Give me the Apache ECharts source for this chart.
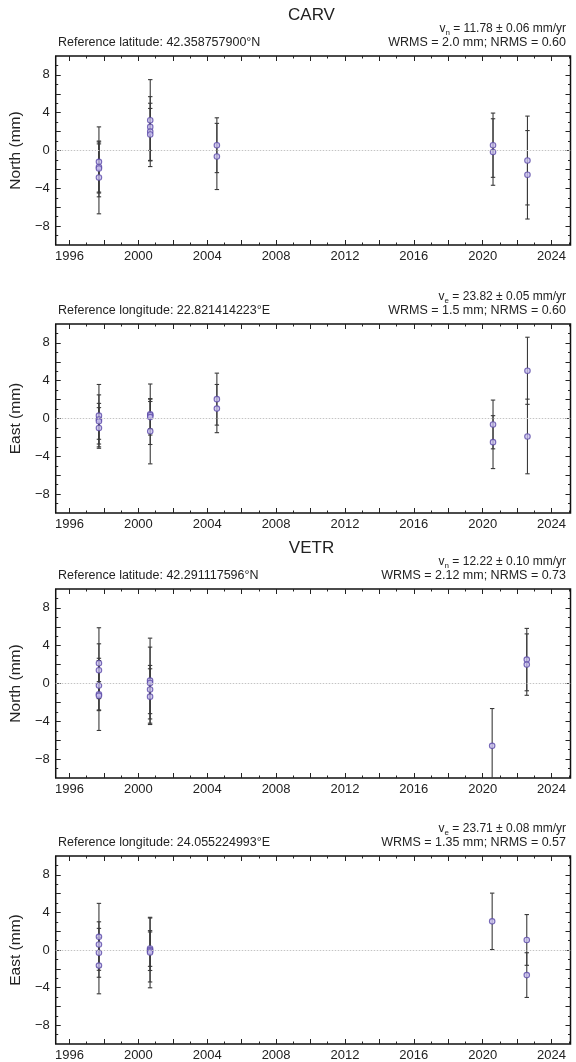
<!DOCTYPE html>
<html><head><meta charset="utf-8">
<script src="https://cdn.jsdelivr.net/npm/echarts@6/dist/echarts.min.js"></script>
<style>html,body{margin:0;padding:0;background:#fff}#c{width:576px;height:1062px}</style>
</head><body><div id="c"></div>
<script>
// ---- axis definitions ----
const xMin = 1995.2, xMax = 2025.1;
const yMin = -10, yMax = 10;
const xLabelVals = [1996, 2000, 2004, 2008, 2012, 2016, 2020, 2024];
const xMajorTicks = [1996, 1998, 2000, 2002, 2004, 2006, 2008, 2010, 2012, 2014, 2016, 2018, 2020, 2022, 2024];
const xMinorTicks = [1996, 1997, 1998, 1999, 2000, 2001, 2002, 2003, 2004, 2005, 2006, 2007, 2008, 2009, 2010, 2011, 2012, 2013, 2014, 2015, 2016, 2017, 2018, 2019, 2020, 2021, 2022, 2023, 2024, 2025];
const yLabelVals = [-8, -4, 0, 4, 8];
const yMajorTicks = [-8, -6, -4, -2, 0, 2, 4, 6, 8];
const yMinorTicks = [-9, -8, -7, -6, -5, -4, -3, -2, -1, 0, 1, 2, 3, 4, 5, 6, 7, 8, 9];

// ---- CARV North ----
const carvNorthT = [1997.71, 1997.71, 1997.71, 1997.71, 2000.69, 2000.69, 2000.69, 2000.69, 2004.56, 2004.56, 2020.6, 2020.6, 2022.6, 2022.6];
const carvNorthV = [-1.2, -1.75, -1.9, -2.85, 3.2, 2.5, 2.0, 1.7, 0.56, -0.63, 0.56, -0.16, -1.06, -2.57];
const carvNorthS = [3.7, 2.65, 2.6, 3.85, 4.3, 2.5, 3.7, 2.75, 2.9, 3.5, 3.4, 3.52, 4.7, 4.68];
// ---- CARV East ----
const carvEastT = [1997.71, 1997.71, 1997.71, 1997.71, 2000.69, 2000.69, 2000.69, 2000.69, 2004.56, 2004.56, 2020.6, 2020.6, 2022.6, 2022.6];
const carvEastV = [0.3, -0.1, -0.3, -1.0, 0.45, 0.35, 0.15, -1.35, 2.05, 1.05, -0.63, -2.5, 5.05, -1.9];
const carvEastS = [3.3, 2.6, 1.9, 2.15, 3.2, 1.45, 1.9, 3.45, 2.75, 2.55, 2.58, 2.8, 3.55, 3.95];
// ---- VETR North ----
const vetrNorthT = [1997.71, 1997.71, 1997.71, 1997.71, 1997.71, 2000.68, 2000.68, 2000.68, 2000.68, 2020.55, 2022.56, 2022.56];
const vetrNorthV = [2.15, 1.4, -0.22, -1.15, -1.3, 0.3, 0.05, -0.64, -1.39, -6.6, 2.53, 2.0];
const vetrNorthS = [3.75, 2.8, 2.65, 3.82, 1.5, 4.5, 3.8, 2.55, 2.95, 3.95, 3.3, 3.25];
// ---- VETR East ----
const vetrEastT = [1997.71, 1997.71, 1997.71, 1997.71, 2000.68, 2000.68, 2000.68, 2000.68, 2020.55, 2022.56, 2022.56];
const vetrEastV = [1.4, 0.59, -0.3, -1.66, 0.16, 0.0, -0.13, -0.27, 3.05, 1.07, -2.67];
const vetrEastS = [3.56, 2.41, 2.6, 3.0, 1.9, 3.4, 2.05, 3.75, 3.0, 2.7, 2.38];

const panels = [
  {top: 56, name: 'North (mm)', t: carvNorthT, v: carvNorthV, s: carvNorthS, title: 'CARV', sym: 'n',
   rate: ' = 11.78 ± 0.06 mm/yr', ref: 'Reference latitude: 42.358757900°N', wrms: 'WRMS = 2.0 mm; NRMS = 0.60'},
  {top: 324, name: 'East (mm)', t: carvEastT, v: carvEastV, s: carvEastS, title: null, sym: 'e',
   rate: ' = 23.82 ± 0.05 mm/yr', ref: 'Reference longitude: 22.821414223°E', wrms: 'WRMS = 1.5 mm; NRMS = 0.60'},
  {top: 589, name: 'North (mm)', t: vetrNorthT, v: vetrNorthV, s: vetrNorthS, title: 'VETR', sym: 'n',
   rate: ' = 12.22 ± 0.10 mm/yr', ref: 'Reference latitude: 42.291117596°N', wrms: 'WRMS = 2.12 mm; NRMS = 0.73'},
  {top: 856, name: 'East (mm)', t: vetrEastT, v: vetrEastV, s: vetrEastS, title: null, sym: 'e',
   rate: ' = 23.71 ± 0.08 mm/yr', ref: 'Reference longitude: 24.055224993°E', wrms: 'WRMS = 1.35 mm; NRMS = 0.57'}
];

const FONT = '"Liberation Sans", Arial, sans-serif';
const TXT = '#222';
const GL = 52.5, GW = 518, GH = 189;

const grids = [], xAxes = [], yAxes = [], series = [], graphic = [];

function errRender(params, api) {
  const x = api.value(0), y = api.value(1), s = api.value(2);
  const a = api.coord([x, y + s]);
  const b = api.coord([x, y - s]);
  const w = 2.2;
  const st = {stroke: '#3a3a3a', lineWidth: 1.1};
  return {type: 'group', children: [
    {type: 'line', shape: {x1: a[0], y1: a[1], x2: b[0], y2: b[1]}, style: st},
    {type: 'line', shape: {x1: a[0] - w, y1: a[1], x2: a[0] + w, y2: a[1]}, style: st},
    {type: 'line', shape: {x1: b[0] - w, y1: b[1], x2: b[0] + w, y2: b[1]}, style: st}
  ]};
}

const fmtNum = v => (v < 0 ? '\u2212' + Math.abs(v) : String(v));

panels.forEach((p, i) => {
  grids.push({left: GL, top: p.top, width: GW, height: GH, show: true, borderColor: '#111', borderWidth: 1.5, backgroundColor: 'transparent'});
  const xb = {type: 'value', gridIndex: i, min: xMin, max: xMax, axisLine: {show: false, onZero: false}, splitLine: {show: false}, axisLabel: {show: false}};
  const tickStyle = {color: '#222', width: 1};
  xAxes.push(Object.assign({}, xb, {position: 'bottom',
    axisTick: {show: true, inside: true, length: 5, customValues: xMajorTicks, lineStyle: tickStyle},
    axisLabel: {show: true, customValues: xLabelVals, fontSize: 13, color: TXT, fontFamily: FONT, margin: 5, formatter: v => String(v)}}));
  xAxes.push(Object.assign({}, xb, {position: 'bottom', axisTick: {show: true, inside: true, length: 2.5, customValues: xMinorTicks, lineStyle: tickStyle}}));
  xAxes.push(Object.assign({}, xb, {position: 'top', axisTick: {show: true, inside: true, length: 5, customValues: xMajorTicks, lineStyle: tickStyle}}));
  xAxes.push(Object.assign({}, xb, {position: 'top', axisTick: {show: true, inside: true, length: 2.5, customValues: xMinorTicks, lineStyle: tickStyle}}));
  const yb = {type: 'value', gridIndex: i, min: yMin, max: yMax, axisLine: {show: false, onZero: false}, splitLine: {show: false}, axisLabel: {show: false}};
  yAxes.push(Object.assign({}, yb, {position: 'left',
    name: p.name, nameLocation: 'middle', nameGap: 28, nameRotate: 90,
    nameTextStyle: {fontSize: 15.5, color: TXT, fontFamily: FONT},
    axisTick: {show: true, inside: true, length: 5, customValues: yMajorTicks, lineStyle: tickStyle},
    axisLabel: {show: true, customValues: yLabelVals, fontSize: 13, color: TXT, fontFamily: FONT, margin: 6, formatter: fmtNum}}));
  yAxes.push(Object.assign({}, yb, {position: 'left', axisTick: {show: true, inside: true, length: 2.5, customValues: yMinorTicks, lineStyle: tickStyle}}));
  yAxes.push(Object.assign({}, yb, {position: 'right', axisTick: {show: true, inside: true, length: 5, customValues: yMajorTicks, lineStyle: tickStyle}}));
  yAxes.push(Object.assign({}, yb, {position: 'right', axisTick: {show: true, inside: true, length: 2.5, customValues: yMinorTicks, lineStyle: tickStyle}}));

  const pts = p.t.map((t, k) => [t, p.v[k], p.s[k]]);
  series.push({type: 'custom', xAxisIndex: 4 * i, yAxisIndex: 4 * i, data: pts, renderItem: errRender, clip: true, z: 2, silent: true});
  series.push({type: 'scatter', xAxisIndex: 4 * i, yAxisIndex: 4 * i, data: pts.map(d => [d[0], d[1]]),
    symbol: 'circle', symbolSize: 5.5, z: 3, silent: true,
    itemStyle: {color: '#c9c1ef', borderColor: '#5a48a8', borderWidth: 1.1},
    markLine: {silent: true, symbol: 'none', label: {show: false},
      lineStyle: {color: '#c4c4c4', type: [1.5, 1.5], width: 1}, data: [{yAxis: 0}]}});

  const T = p.top;
  if (p.title) {
    graphic.push({type: 'text', x: GL + GW / 2, y: T - 41,
      style: {text: p.title, font: '17px ' + FONT, fill: TXT, textAlign: 'center', textVerticalAlign: 'middle'}});
  }
  graphic.push({type: 'text', x: 566, y: T - 27,
    style: {text: '{a|v}{s|' + p.sym + '}{a|' + p.rate + '}', textAlign: 'right', textVerticalAlign: 'middle',
      rich: {a: {fontSize: 12, fontFamily: FONT, fill: TXT, lineHeight: 16, verticalAlign: 'middle'},
             s: {fontSize: 8, fontFamily: FONT, fill: TXT, lineHeight: 16, verticalAlign: 'bottom'}}}});
  graphic.push({type: 'text', x: 58, y: T - 13,
    style: {text: p.ref, font: '12.5px ' + FONT, fill: TXT, textAlign: 'left', textVerticalAlign: 'middle'}});
  graphic.push({type: 'text', x: 566, y: T - 13,
    style: {text: p.wrms, font: '12.5px ' + FONT, fill: TXT, textAlign: 'right', textVerticalAlign: 'middle'}});
});

const chart = echarts.init(document.getElementById('c'), null, {renderer: 'canvas'});
chart.setOption({
  backgroundColor: '#ffffff',
  animation: false,
  grid: grids, xAxis: xAxes, yAxis: yAxes, series: series, graphic: graphic
});
</script>
</body></html>
